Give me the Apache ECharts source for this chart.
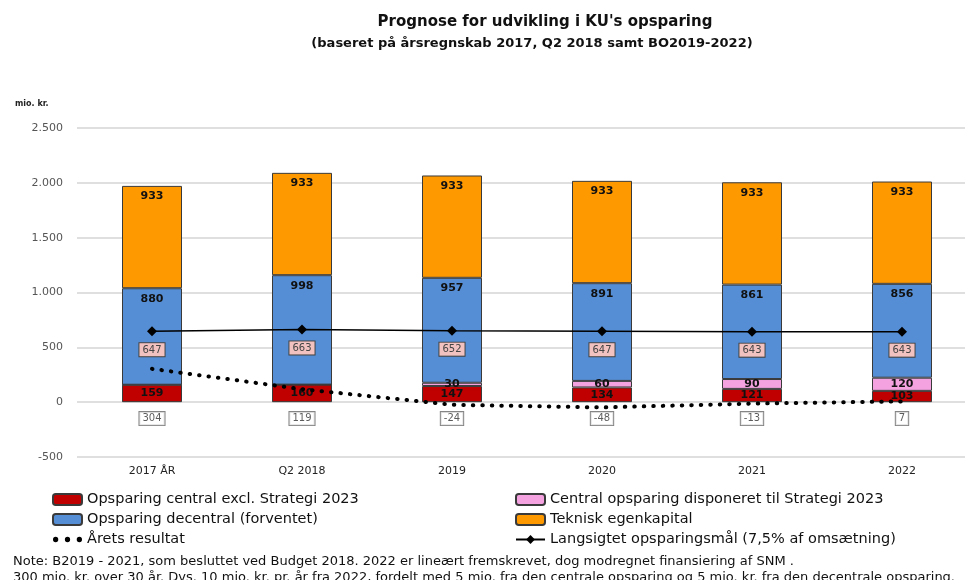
<!DOCTYPE html>
<html>
<head>
<meta charset="utf-8">
<script src="https://cdn.jsdelivr.net/npm/echarts@6/dist/echarts.min.js"></script>
<style>
  html, body { margin: 0; padding: 0; background: #fff; }
  #main { width: 965px; height: 580px; }
</style>
</head>
<body>
<div id="main"></div>
<script>
// data
var years = ['2017 ÅR', 'Q2 2018', '2019', '2020', '2021', '2022'];
var centralExcl = [159, 160, 147, 134, 121, 103];
var centralStrategi = [0, 0, 30, 60, 90, 120];
var decentral = [880, 998, 957, 891, 861, 856];
var teknisk = [933, 933, 933, 933, 933, 933];
var aaretsResultat = [304, 119, -24, -48, -13, 7];
var opsparingsmaal = [647, 663, 652, 647, 643, 643];

var resultLabelLevel = -150; // where the yearly result boxes sit

var chart = echarts.init(document.getElementById('main'));

var barLabel = {
  show: true,
  position: 'insideTop',
  distance: 5,
  color: '#111',
  fontWeight: 'bold',
  fontSize: 11,
  fontFamily: 'DejaVu Sans',
  formatter: function (p) { return p.value ? p.value : ''; }
};
var barStyle = function (c) {
  return { color: c, borderColor: '#3a3a3a', borderWidth: 1 };
};
var thousands = function (v) {
  var s = Math.abs(v).toString().replace(/\B(?=(\d{3})+(?!\d))/g, '.');
  return (v < 0 ? '-' : '') + s;
};
// three dots for the dotted-line legend entry
var dotsIcon = 'path://M0,2a2,2 0 1,0 4,0a2,2 0 1,0 -4,0z M9,2a2,2 0 1,0 4,0a2,2 0 1,0 -4,0z M18,2a2,2 0 1,0 4,0a2,2 0 1,0 -4,0z';
var legendText = { fontSize: 14.5, color: '#111', fontFamily: 'DejaVu Sans' };

var options = {
  animation: false,
  textStyle: { fontFamily: 'DejaVu Sans' },
  title: [{
    text: "Prognose for udvikling i KU's opsparing",
    left: 540, top: 10, textAlign: 'center',
    textStyle: { fontSize: 15, fontWeight: 'bold', color: '#111', fontFamily: 'DejaVu Sans' }
  }, {
    text: '(baseret på årsregnskab 2017, Q2 2018 samt BO2019-2022)',
    left: 527, top: 32, textAlign: 'center',
    textStyle: { fontSize: 13, fontWeight: 'bold', color: '#111', fontFamily: 'DejaVu Sans' }
  }, {
    text: 'mio. kr.',
    left: 10, top: 95,
    textStyle: { fontSize: 8, fontWeight: 'bold', color: '#222', fontFamily: 'DejaVu Sans' }
  }, {
    text: 'Note: B2019 - 2021, som besluttet ved Budget 2018. 2022 er lineært fremskrevet, dog modregnet finansiering af SNM .\n300 mio. kr. over 30 år. Dvs. 10 mio. kr. pr. år fra 2022, fordelt med 5 mio. fra den centrale opsparing og 5 mio. kr. fra den decentrale opsparing.',
    left: 8, top: 549,
    textStyle: { fontSize: 13, fontWeight: 'normal', color: '#111', lineHeight: 16, fontFamily: 'DejaVu Sans' }
  }],
  legend: [{
    orient: 'vertical', left: 47, top: 487, itemGap: 5, itemWidth: 29, itemHeight: 11,
    textStyle: legendText,
    data: ['Opsparing central excl. Strategi 2023', 'Opsparing decentral (forventet)',
      { name: 'Årets resultat', icon: dotsIcon, itemStyle: { color: '#000' } }]
  }, {
    orient: 'vertical', left: 510, top: 487, itemGap: 5, itemWidth: 29, itemHeight: 11,
    textStyle: legendText,
    data: ['Central opsparing disponeret til Strategi 2023', 'Teknisk egenkapital', 'Langsigtet opsparingsmål (7,5% af omsætning)']
  }],
  grid: { left: 77, width: 900, top: 128, bottom: 123, outerBoundsMode: 'none' },
  xAxis: {
    type: 'category',
    data: years,
    position: 'bottom',
    axisLine: { show: false },
    axisTick: { show: false },
    axisLabel: { color: '#222', fontSize: 11, margin: 9 }
  },
  yAxis: {
    type: 'value',
    min: -500, max: 2500, interval: 500,
    axisLine: { show: false },
    axisTick: { show: false },
    axisLabel: { color: '#555', fontSize: 11, margin: 14, formatter: thousands },
    splitLine: { lineStyle: { color: '#d4d4d4', width: 1.5 } }
  },
  series: [{
    name: 'Opsparing central excl. Strategi 2023',
    type: 'bar', stack: 's', barWidth: 60,
    data: centralExcl,
    itemStyle: barStyle('#c00000'),
    label: Object.assign({}, barLabel, { position: 'inside' })
  }, {
    name: 'Central opsparing disponeret til Strategi 2023',
    type: 'bar', stack: 's',
    data: centralStrategi,
    itemStyle: barStyle('#f4a2e0'),
    label: Object.assign({}, barLabel, { position: 'inside' })
  }, {
    name: 'Opsparing decentral (forventet)',
    type: 'bar', stack: 's',
    data: decentral,
    itemStyle: barStyle('#558ed5'),
    label: barLabel
  }, {
    name: 'Teknisk egenkapital',
    type: 'bar', stack: 's',
    data: teknisk,
    itemStyle: barStyle('#ff9900'),
    label: barLabel
  }, {
    name: 'Årets resultat',
    type: 'line',
    data: aaretsResultat,
    symbol: 'none',
    z: 5,
    itemStyle: { color: '#000' },
    lineStyle: { color: '#000', width: 4, type: [0.5, 9], cap: 'round' }
  }, {
    name: 'resultat labels',
    type: 'scatter',
    data: aaretsResultat.map(function () { return resultLabelLevel; }),
    symbolSize: 0,
    silent: true,
    label: {
      show: true, position: 'inside',
      formatter: function (p) { return aaretsResultat[p.dataIndex]; },
      color: '#333', fontSize: 10,
      backgroundColor: '#fff', borderColor: '#666', borderWidth: 1,
      padding: [2, 3, 1, 3]
    }
  }, {
    name: 'Langsigtet opsparingsmål (7,5% af omsætning)',
    type: 'line',
    data: opsparingsmaal,
    symbol: 'diamond', symbolSize: 10,
    z: 6,
    itemStyle: { color: '#000' },
    lineStyle: { color: '#000', width: 1.5 },
    label: {
      show: true, position: 'bottom', distance: 7,
      color: '#444', fontSize: 10,
      backgroundColor: '#f2c2c0', borderColor: '#444', borderWidth: 1,
      padding: [2, 3, 1, 3]
    }
  }]
};
chart.setOption(options);
</script>
</body>
</html>
